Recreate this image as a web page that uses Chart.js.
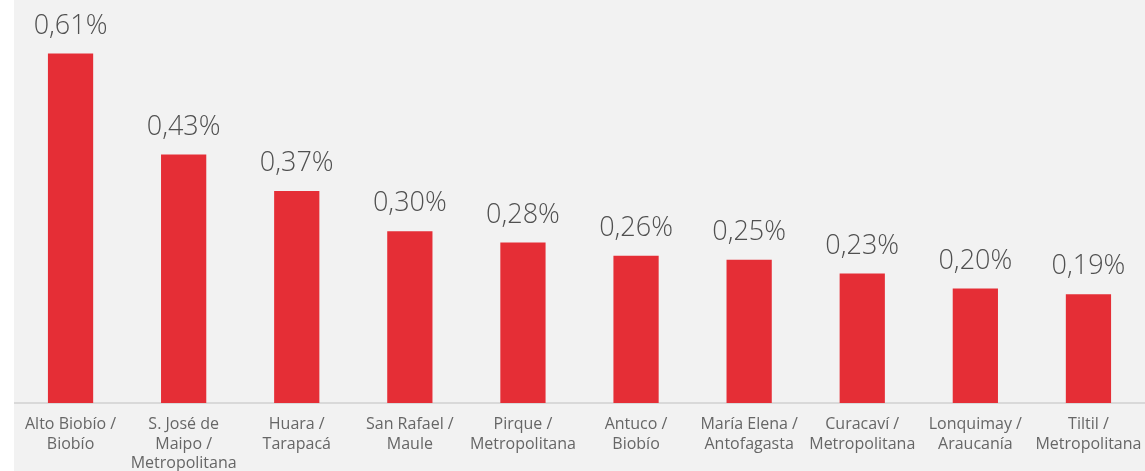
<!DOCTYPE html>
<html>
<head>
<meta charset="utf-8">
<script src="https://cdn.jsdelivr.net/npm/chart.js@4.4.1/dist/chart.umd.min.js"></script>
<style>
  html, body { margin: 0; padding: 0; background: #ffffff; }
  #wrap { position: absolute; left: 14px; top: 0; width: 1131px; height: 471px; background: #f2f2f2; }
</style>
</head>
<body>
<div id="wrap"><canvas id="comunasChart" width="1131" height="471"></canvas></div>
<script>
// comunas con mayor porcentaje (etiquetas en varias lineas)
const comunas = [
  ["Alto Biobío /", "Biobío"],
  ["S. José de", "Maipo /", "Metropolitana"],
  ["Huara /", "Tarapacá"],
  ["San Rafael /", "Maule"],
  ["Pirque /", "Metropolitana"],
  ["Antuco /", "Biobío"],
  ["María Elena /", "Antofagasta"],
  ["Curacaví /", "Metropolitana"],
  ["Lonquimay /", "Araucanía"],
  ["Tiltil /", "Metropolitana"]
];
const porcentajes = [0.61, 0.434, 0.37, 0.30, 0.28, 0.257, 0.25, 0.226, 0.20, 0.19];

const barColor = "#e52e36";
const fontFamily = "'Open Sans', 'Noto Sans', sans-serif";

const fmtPct = v => v.toFixed(2).replace(".", ",") + "%";

// draw the value above each bar
const valueLabels = {
  id: "valueLabels",
  afterDatasetsDraw(chart) {
    const c = chart.ctx;
    const meta = chart.getDatasetMeta(0);
    c.save();
    c.font = "300 27px " + fontFamily;
    c.fillStyle = "#505050";
    c.textAlign = "center";
    c.textBaseline = "bottom";
    meta.data.forEach((bar, i) => {
      c.fillText(fmtPct(porcentajes[i]), bar.x, bar.y - 14);
    });
    c.restore();
  }
};

const ctx = document.getElementById("comunasChart");

new Chart(ctx, {
  type: "bar",
  data: {
    labels: comunas,
    datasets: [
      {
        data: porcentajes,
        backgroundColor: barColor,
        categoryPercentage: 1,
        barPercentage: 0.4,
      }
    ],
  },
  options: {
    responsive: false,
    animation: false,
    layout: { padding: { top: 2, left: 0, right: 0, bottom: 0 } },
    plugins: {
      legend: { display: false },
      tooltip: { enabled: false },
    },
    scales: {
      x: {
        grid: { display: false, drawTicks: false },
        border: { display: true, color: "#d9d9d9", width: 2 },
        ticks: {
          color: "#666666",
          font: { family: fontFamily, size: 16, lineHeight: 1.22 },
          padding: 12,
          maxRotation: 0,
          autoSkip: false,
        },
        afterFit(scale) {
          scale.height = 68;
          // let the last label run past the edge instead of shrinking the plot
          scale.paddingLeft = 0;
          scale.paddingRight = 0;
        },
      },
      y: {
        display: false,
        beginAtZero: true,
        min: 0,
        max: 0.7,
      },
    },
  },
  plugins: [valueLabels],
});
</script>
</body>
</html>
